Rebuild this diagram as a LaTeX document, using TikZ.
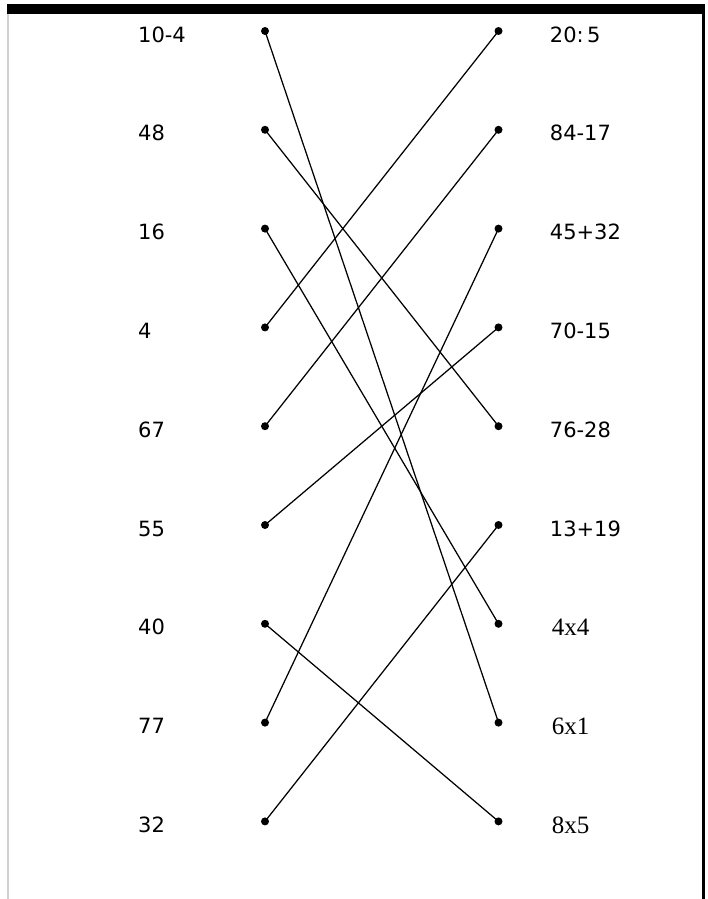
\documentclass[tikz,border=0pt]{standalone}
\usepackage{fontspec}
\setmainfont{DejaVu Sans}
\newfontfamily\prodfont{Liberation Serif}
\usetikzlibrary{positioning}
\tikzset{
  dot/.style={circle, fill=black, inner sep=0pt, minimum size=8pt},
  lbl/.style={inner sep=0pt, anchor=west, font=\fontsize{21}{22}\selectfont},
  plbl/.style={inner sep=0pt, anchor=west, font=\prodfont\fontsize{25}{26}\selectfont},
  match/.style={line width=1.25pt},
}

\begin{document}
\begin{tikzpicture}[x=1pt, y=-1pt, node distance=48pt]
\useasboundingbox (0,0) rectangle (707,899);
% frame
\fill[black] (7,4) rectangle (705,14);
\fill[black] (701.5,14) rectangle (704.5,899);
\fill[gray!35] (7,14) rectangle (9,899);

% left dots
\node[dot] (a1) at (265,31) {};
\node[dot] (a2) at (265,129.8) {};
\node[dot] (a3) at (265,228.6) {};
\node[dot] (a4) at (265,327.4) {};
\node[dot] (a5) at (265,426.2) {};
\node[dot] (a6) at (265,525) {};
\node[dot] (a7) at (265,623.8) {};
\node[dot] (a8) at (265,722.6) {};
\node[dot] (a9) at (265,821.4) {};

% right dots
\node[dot] (b1) at (498.5,31) {};
\node[dot] (b2) at (498.5,129.8) {};
\node[dot] (b3) at (498.5,228.6) {};
\node[dot] (b4) at (498.5,327.4) {};
\node[dot] (b5) at (498.5,426.2) {};
\node[dot] (b6) at (498.5,525) {};
\node[dot] (b7) at (498.5,623.8) {};
\node[dot] (b8) at (498.5,722.6) {};
\node[dot] (b9) at (498.5,821.4) {};

% left labels
\node[lbl] (l1) at (138,34.5) {10-4};
\node[lbl] (l2) at (138,133.3) {48};
\node[lbl] (l3) at (138,232.1) {16};
\node[lbl] (l4) at (138,330.9) {4};
\node[lbl] (l5) at (138,429.7) {67};
\node[lbl] (l6) at (138,528.5) {55};
\node[lbl] (l7) at (138,627.3) {40};
\node[lbl] (l8) at (138,726.1) {77};
\node[lbl] (l9) at (138,824.9) {32};

% right labels
\node[lbl, right=47pt of b1, yshift=-3.5pt] (r1) {20:\,5};
\node[lbl, right=47pt of b2, yshift=-3.5pt] (r2) {84-17};
\node[lbl, right=47pt of b3, yshift=-3.5pt] (r3) {45+32};
\node[lbl, right=47pt of b4, yshift=-3.5pt] (r4) {70-15};
\node[lbl, right=47pt of b5, yshift=-3.5pt] (r5) {76-28};
\node[lbl, right=47pt of b6, yshift=-3.5pt] (r6) {13+19};
\node[plbl, right=49pt of b7, yshift=-3.5pt] (r7) {4x4};
\node[plbl, right=49pt of b8, yshift=-3.5pt] (r8) {6x1};
\node[plbl, right=49pt of b9, yshift=-3.5pt] (r9) {8x5};

% matches
\draw[match] (a1.center) -- (b8.center);
\draw[match] (a2.center) -- (b5.center);
\draw[match] (a3.center) -- (b7.center);
\draw[match] (a4.center) -- (b1.center);
\draw[match] (a5.center) -- (b2.center);
\draw[match] (a6.center) -- (b4.center);
\draw[match] (a7.center) -- (b9.center);
\draw[match] (a8.center) -- (b3.center);
\draw[match] (a9.center) -- (b6.center);
\end{tikzpicture}
\end{document}
